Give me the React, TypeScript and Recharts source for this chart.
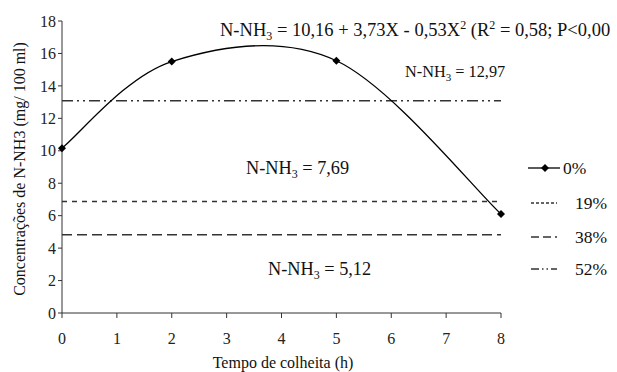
import React from 'react';
import { LineChart, Line, XAxis, YAxis } from 'recharts';

// tempo de colheita (h) and measured N-NH3 for 0%
const tempo = [0, 2, 5, 8];
const nh3Zero = [10.16, 15.5, 15.55, 6.1];

// mean levels for the other treatments (drawn as flat lines across 0-8 h)
const levelTempo = [0, 8];
const nh3Dezenove = 6.87;
const nh3TrintaOito = 4.82;
const nh3CinquentaDois = 13.08;

const xTicks = [0, 1, 2, 3, 4, 5, 6, 7, 8];
const yTicks = [0, 2, 4, 6, 8, 10, 12, 14, 16, 18];

const seriesNames = ['0%', '19%', '38%', '52%'];
const seriesDash = ['', '5 5', '10 5', '11 4 2 4 2 4'];

const FONT = 'Liberation Serif, Times New Roman, serif';

const zeroData = tempo.map((t, i) => ({ t, v: nh3Zero[i] }));
const flat = (v: number) => levelTempo.map((t) => ({ t, v }));

// Excel-like smoothed line (Catmull-Rom style bezier)
const excelSmooth = (context: any) => {
  let pts: [number, number][] = [];
  return {
    areaStart() {},
    areaEnd() {},
    lineStart() {
      pts = [];
    },
    point(x: number, y: number) {
      pts.push([+x, +y]);
    },
    lineEnd() {
      if (!pts.length) return;
      context.moveTo(pts[0][0], pts[0][1]);
      for (let i = 0; i < pts.length - 1; i++) {
        const p0 = pts[Math.max(i - 1, 0)];
        const p1 = pts[i];
        const p2 = pts[i + 1];
        const p3 = pts[Math.min(i + 2, pts.length - 1)];
        context.bezierCurveTo(
          p1[0] + (p2[0] - p0[0]) / 6,
          p1[1] + (p2[1] - p0[1]) / 6,
          p2[0] - (p3[0] - p1[0]) / 6,
          p2[1] - (p3[1] - p1[1]) / 6,
          p2[0],
          p2[1]
        );
      }
    },
  };
};

const Diamond = (props: any) => {
  const { cx, cy, index } = props;
  return (
    <path
      key={`d-${index}`}
      d={`M${cx},${cy - 4}L${cx + 4},${cy}L${cx},${cy + 4}L${cx - 4},${cy}Z`}
      fill="#000"
    />
  );
};

// legend row centres (px)
const rowMid = [168, 203, 237, 269];

const App: React.FC = () => {
  return (
    <div style={{ position: 'absolute', left: 0, top: 0, width: 617, height: 372, background: '#fff', fontFamily: FONT }}>
      <LineChart width={617} height={372} margin={{ top: 21, right: 116, bottom: 0, left: 12 }}>
        <XAxis
          dataKey="t"
          type="number"
          domain={[0, 8]}
          ticks={xTicks}
          height={59}
          tickSize={5}
          stroke="#333"
          tick={{ fill: '#222', fontSize: 16, fontFamily: FONT, dy: 13 }}
          allowDuplicatedCategory={false}
        />
        <YAxis
          type="number"
          domain={[0, 18]}
          ticks={yTicks}
          width={50}
          tickSize={4}
          stroke="#333"
          tick={{ fill: '#222', fontSize: 16, fontFamily: FONT }}
        />
        <Line data={flat(nh3CinquentaDois)} dataKey="v" name={seriesNames[3]} stroke="#333" strokeWidth={1.4} strokeDasharray={seriesDash[3]} dot={false} isAnimationActive={false} />
        <Line data={flat(nh3Dezenove)} dataKey="v" name={seriesNames[1]} stroke="#333" strokeWidth={1.4} strokeDasharray={seriesDash[1]} dot={false} isAnimationActive={false} />
        <Line data={flat(nh3TrintaOito)} dataKey="v" name={seriesNames[2]} stroke="#333" strokeWidth={1.4} strokeDasharray={seriesDash[2]} dot={false} isAnimationActive={false} />
        <Line data={zeroData} dataKey="v" name={seriesNames[0]} type={excelSmooth as any} stroke="#000" strokeWidth={1.3} dot={<Diamond />} isAnimationActive={false} />
      </LineChart>
      <svg width={617} height={372} style={{ position: 'absolute', left: 0, top: 0, pointerEvents: 'none' }} fontFamily={FONT} fill="#111">
        <text x={220} y={36} fontSize={18.5}>
          N-NH<tspan fontSize={12} dy={4}>3</tspan><tspan dy={-4}> = 10,16 + 3,73X - 0,53X</tspan><tspan fontSize={12} dy={-7}>2</tspan><tspan dy={7}> (R</tspan><tspan fontSize={12} dy={-7}>2</tspan><tspan dy={7}> = 0,58; P&lt;0,00</tspan>
        </text>
        <text x={405} y={77} fontSize={16.3}>
          N-NH<tspan fontSize={11} dy={4}>3</tspan><tspan dy={-4}> = 12,97</tspan>
        </text>
        <text x={246} y={174} fontSize={18.3}>
          N-NH<tspan fontSize={12} dy={4}>3</tspan><tspan dy={-4}> = 7,69</tspan>
        </text>
        <text x={268} y={275} fontSize={18.3}>
          N-NH<tspan fontSize={12} dy={4}>3</tspan><tspan dy={-4}> = 5,12</tspan>
        </text>
        <text x={283} y={368} fontSize={16} textAnchor="middle">Tempo de colheita (h)</text>
        <text x={0} y={0} fontSize={16} textAnchor="middle" transform="translate(25,169) rotate(-90)">
          Concentrações de N-NH3 (mg/ 100 ml)
        </text>
        {seriesNames.map((name, i) => (
          <g key={name}>
            <line
              x1={i === 0 ? 528 : 531}
              x2={i === 0 ? 560 : 557}
              y1={rowMid[i]}
              y2={rowMid[i]}
              stroke={i === 0 ? '#000' : '#333'}
              strokeWidth={1.3}
              strokeDasharray={i === 3 ? '8 3 1.5 3 1.5 3' : i === 1 ? '3 2' : i === 2 ? '8 4' : undefined}
            />
            {i === 0 && (
              <path d={`M545,${rowMid[0] - 4}L549,${rowMid[0]}L545,${rowMid[0] + 4}L541,${rowMid[0]}Z`} fill="#000" />
            )}
            <text x={i === 0 ? 563 : 575} y={rowMid[i] + 6} fontSize={17.5}>
              {name}
            </text>
          </g>
        ))}
      </svg>
    </div>
  );
};

export default App;
